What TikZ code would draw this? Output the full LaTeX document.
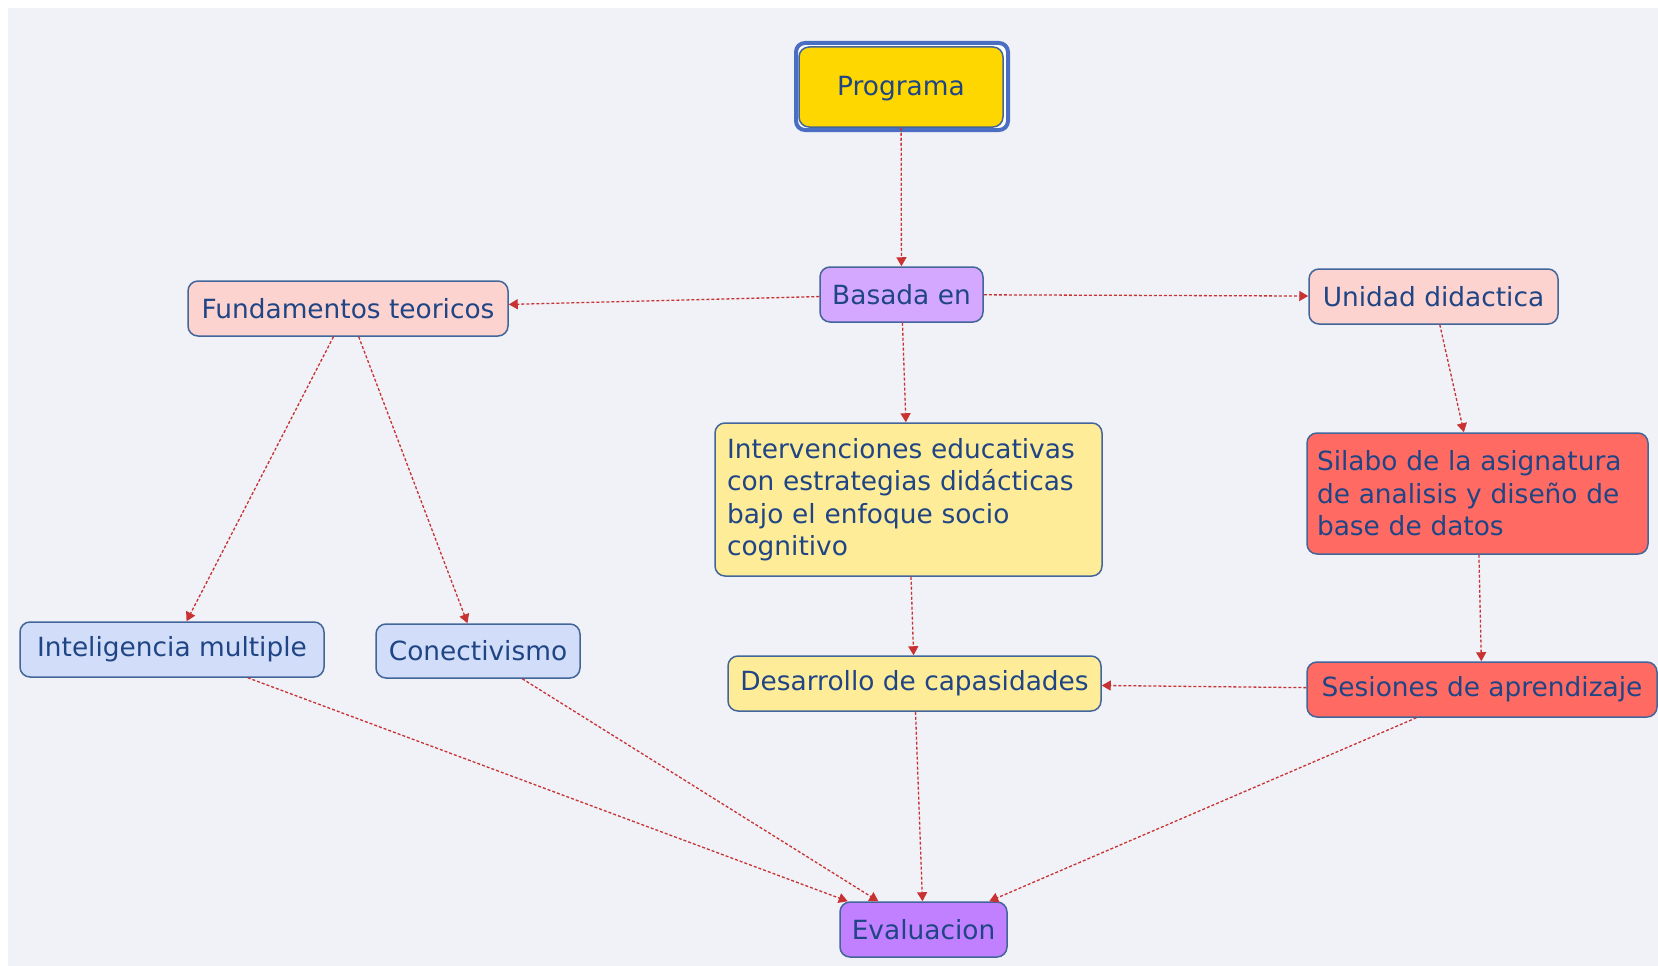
\documentclass[tikz,border=0pt]{standalone}
\usepackage{fontspec}
\setmainfont{DejaVu Sans}
\usetikzlibrary{arrows.meta}

\definecolor{canvas}{HTML}{F1F2F8}
\definecolor{frameblue}{HTML}{4A6EC2}
\definecolor{edgeblue}{HTML}{42659A}
\definecolor{txtblue}{HTML}{1F4585}
\definecolor{linkred}{HTML}{C83232}
\definecolor{gold}{HTML}{FFD700}
\definecolor{lavender}{HTML}{D4A8FF}
\definecolor{violet}{HTML}{C080FF}
\definecolor{blush}{HTML}{FDD3D0}
\definecolor{cream}{HTML}{FFEC99}
\definecolor{coral}{HTML}{FF6B63}
\definecolor{skyblue}{HTML}{D2DEF9}

\tikzset{
  box/.style={draw=edgeblue, line width=1.5pt, rounded corners=10pt,
    text=txtblue, font={\fontsize{26.4}{32.5}\selectfont}, inner sep=0pt},
  textbox/.style={box, align=left, inner xsep=#1, inner ysep=0pt},
  link/.style={draw=linkred, line width=1.3pt, dash pattern=on 3pt off 2pt,
    -{Triangle[length=9pt,width=10pt]}},
}

\begin{document}
\begin{tikzpicture}[x=1pt,y=-1pt]
\useasboundingbox (0,0) rectangle (1658,966);
\fill[canvas] (8,8) rectangle (1658,966);

% root concept with its double frame
\node[draw=frameblue, line width=4pt, rounded corners=9pt, fill=white,
      minimum width=212pt, minimum height=87pt, inner sep=0pt] (frame) at (902,86.5) {};
\node[box, fill=gold, minimum width=204pt, minimum height=80pt] (prog) at (901,87) {};
\node[text=txtblue, font={\fontsize{26.4}{32.5}\selectfont}, inner sep=0pt] (progtext) at (901,89) {Programa};

% concepts
\node[box, fill=lavender, minimum width=163pt, minimum height=55pt] (basada) at (901.5,294.5) {Basada en};
\node[box, fill=blush, minimum width=320pt, minimum height=55pt] (fund) at (348,308.5) {Fundamentos teoricos};
\node[box, fill=blush, minimum width=249pt, minimum height=55pt] (unidad) at (1433.5,296.5) {Unidad didactica};
\node[textbox=12pt, fill=cream, text width=363pt, minimum height=153pt] (interv) at (908.5,499.5)
  {Intervenciones educativas\\con estrategias didácticas\\bajo el enfoque socio\\cognitivo};
\node[textbox=10pt, fill=coral, text width=321pt, minimum height=121pt] (silabo) at (1477.5,493.5)
  {Silabo de la asignatura\\de analisis y diseño de\\base de datos};
\node[box, fill=skyblue, minimum width=304pt, minimum height=55pt] (intel) at (172,649.5) {Inteligencia multiple};
\node[box, fill=skyblue, minimum width=204pt, minimum height=54pt] (conect) at (478,651) {Conectivismo};
\node[box, fill=cream, minimum width=373pt, minimum height=55pt] (desarr) at (914.5,683.5) {Desarrollo de capasidades};
\node[box, fill=coral, minimum width=350pt, minimum height=55pt] (sesion) at (1482,689.5) {Sesiones de aprendizaje};
\node[box, fill=violet, minimum width=167pt, minimum height=55pt] (eval) at (923.5,929.5) {Evaluacion};

% links
\draw[link] (prog) -- (basada);
\draw[link] (basada) -- (fund);
\draw[link] (basada) -- (unidad);
\draw[link] (basada) -- (interv);
\draw[link] (fund) -- (intel);
\draw[link] (fund) -- (conect);
\draw[link] (unidad) -- (silabo);
\draw[link] (interv) -- (desarr);
\draw[link] (silabo) -- (sesion);
\draw[link] (sesion) -- (desarr);
\draw[link] (intel) -- (eval);
\draw[link] (conect) -- (eval);
\draw[link] (desarr) -- (eval);
\draw[link] (sesion) -- (eval);
\end{tikzpicture}
\end{document}
